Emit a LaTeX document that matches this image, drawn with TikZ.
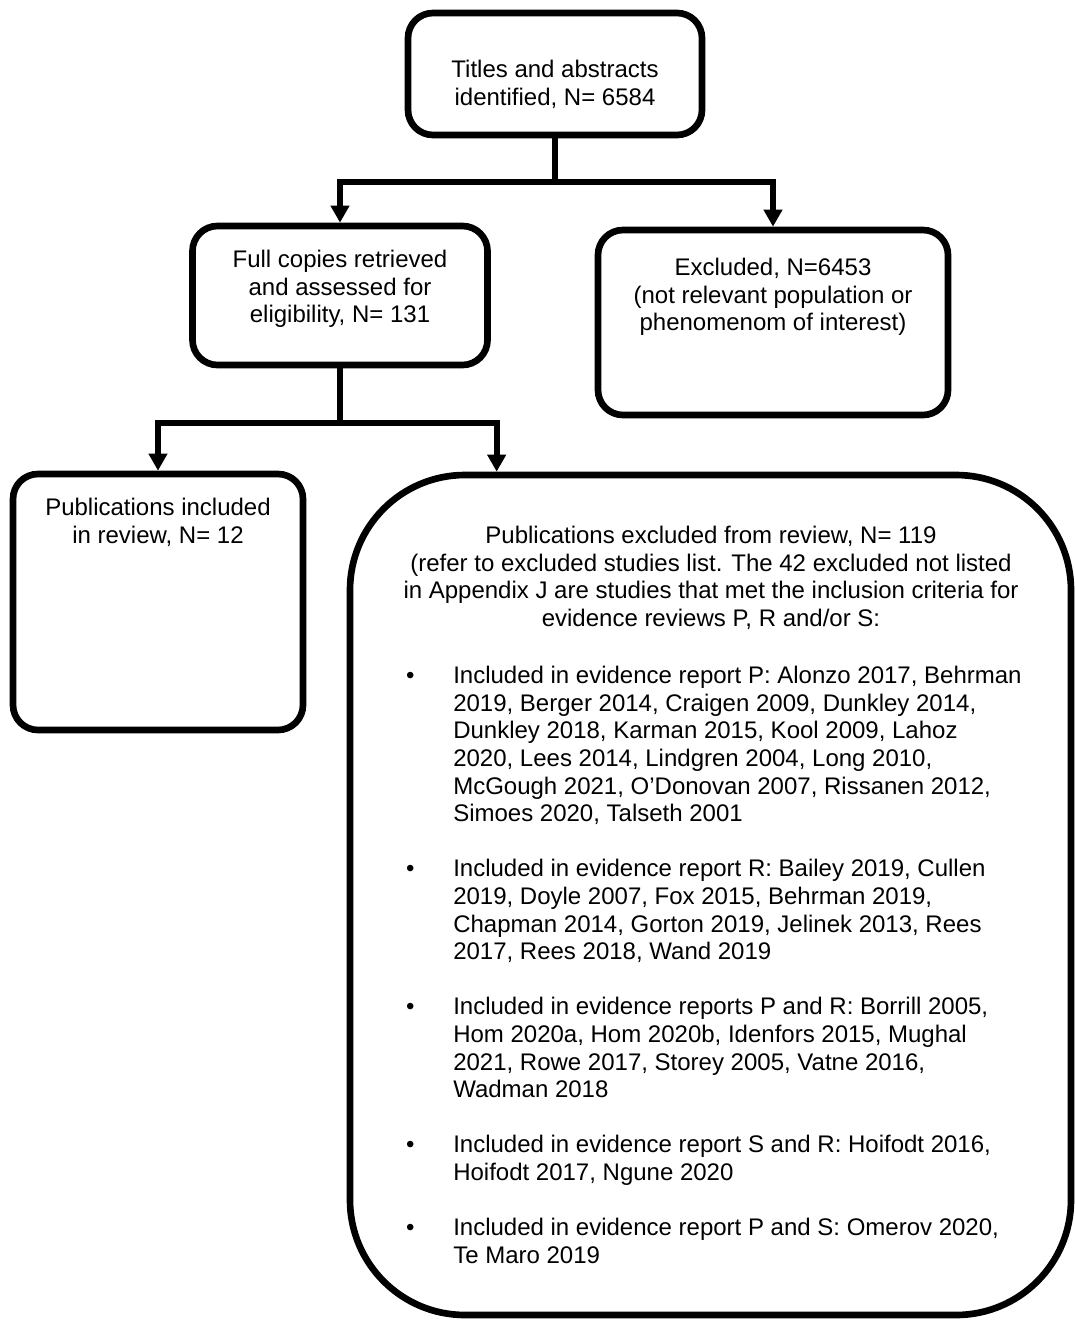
\documentclass[tikz,border=0pt]{standalone}
\usepackage{fontspec}
\setmainfont{Liberation Sans}
\usetikzlibrary{arrows.meta,positioning}
\newlength{\pxu}\setlength{\pxu}{0.75pt}
\tikzset{
  box/.style={draw,line width=5pt,rounded corners=25\pxu,inner sep=0pt},
  bigbox/.style={box,rounded corners=115\pxu},
  txt/.style={inner sep=0pt,anchor=north,align=center,font=\fontsize{18}{20.7}\selectfont},
  conn/.style={line width=4.5pt},
  arr/.style={conn,-{Triangle[width=13.5pt,length=12.75pt]}},
}
\newcommand{\itm}{\llap{\textbullet\hspace{29pt}}}

\begin{document}
\begin{tikzpicture}[x=\pxu,y=-\pxu]
\useasboundingbox (0,0) rectangle (1074,1320);
% boxes
\node[box,minimum width=294\pxu,minimum height=122\pxu] (titles) at (555,74) {};
\node[box,minimum width=295\pxu,minimum height=139\pxu] (full) at (340,295.5) {};
\node[box,minimum width=350\pxu,minimum height=185\pxu] (excl) at (773,322.5) {};
\node[box,minimum width=290\pxu,minimum height=256\pxu] (incl) at (158,602) {};
\node[bigbox,minimum width=721\pxu,minimum height=840\pxu] (pubex) at (710.5,895) {};

% texts
\node[txt] (titlestxt) at (555,60) {Titles and abstracts\\identified, N= 6584};
\node[txt] (fulltxt) at (340,250) {Full copies retrieved\\and assessed for\\eligibility, N= 131};
\node[txt] (excltxt) at (773,258) {Excluded, N=6453\\(not relevant population or\\phenomenom of interest)};
\node[txt] (incltxt) at (158,498) {Publications included\\in review, N= 12};
\node[txt] (pubextxt) at (711,526) {Publications excluded from review, N= 119\\
  (refer to excluded studies list. The 42 excluded not listed\\
  in Appendix J are studies that met the inclusion criteria for\\
  evidence reviews P, R and/or S:};
\node[txt,anchor=north west,align=left] (studies) at (453,666) {%
  \itm Included in evidence report P: Alonzo 2017, Behrman\\
  2019, Berger 2014, Craigen 2009, Dunkley 2014,\\
  Dunkley 2018, Karman 2015, Kool 2009, Lahoz\\
  2020, Lees 2014, Lindgren 2004, Long 2010,\\
  McGough 2021, O’Donovan 2007, Rissanen 2012,\\
  Simoes 2020, Talseth 2001\\[20.7pt]
  \itm Included in evidence report R: Bailey 2019, Cullen\\
  2019, Doyle 2007, Fox 2015, Behrman 2019,\\
  Chapman 2014, Gorton 2019, Jelinek 2013, Rees\\
  2017, Rees 2018, Wand 2019\\[20.7pt]
  \itm Included in evidence reports P and R: Borrill 2005,\\
  Hom 2020a, Hom 2020b, Idenfors 2015, Mughal\\
  2021, Rowe 2017, Storey 2005, Vatne 2016,\\
  Wadman 2018\\[20.7pt]
  \itm Included in evidence report S and R: Hoifodt 2016,\\
  Hoifodt 2017, Ngune 2020\\[20.7pt]
  \itm Included in evidence report P and S: Omerov 2020,\\
  Te Maro 2019};

% connectors
\coordinate (fork1) at (555,182);
\coordinate (fork2) at (340,423);
\draw[conn] (titles.south) -- (fork1);
\draw[arr] (fork1) -| (full.north);
\draw[arr] (fork1) -| (excl.north);
\draw[conn] (full.south) -- (fork2);
\draw[arr] (fork2) -| (incl.north);
\draw[arr] (fork2) -| ([xshift=112.5pt]pubex.north west);
\end{tikzpicture}
\end{document}
